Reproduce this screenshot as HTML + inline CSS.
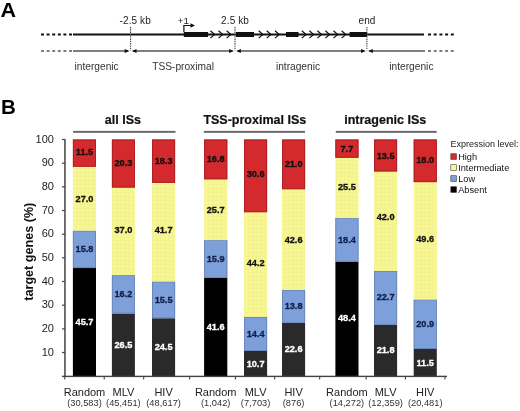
<!DOCTYPE html>
<html><head><meta charset="utf-8"><style>
html,body{margin:0;padding:0;background:#fff;}
body{width:520px;height:411px;overflow:hidden;}
svg{display:block;font-family:"Liberation Sans", sans-serif;will-change:transform;}
</style></head><body>
<svg width="520" height="411" viewBox="0 0 520 411">
<defs><pattern id="yg" width="4" height="4" patternUnits="userSpaceOnUse"><rect width="4" height="4" fill="none"/><rect x="0" y="0" width="4" height="1" fill="#e8e690" opacity="0.35"/><rect x="0" y="1" width="1" height="3" fill="#e8e690" opacity="0.35"/></pattern></defs>
<rect width="520" height="411" fill="#fff"/>
<text x="0.6" y="17.2" font-size="20.5" font-weight="bold" fill="#000" transform="translate(0.6 0) scale(1.05 1) translate(-0.6 0)">A</text>
<line x1="41" y1="34.5" x2="73" y2="34.5" stroke="#111" stroke-width="2" stroke-dasharray="3 2.6"/>
<line x1="73" y1="34.5" x2="424" y2="34.5" stroke="#111" stroke-width="2"/>
<line x1="428" y1="34.5" x2="455" y2="34.5" stroke="#111" stroke-width="2" stroke-dasharray="3 2.7"/>
<rect x="183.8" y="32.0" width="24.3" height="5" fill="#111"/>
<rect x="236.0" y="32.0" width="18.0" height="5" fill="#111"/>
<rect x="286.0" y="32.0" width="12.5" height="5" fill="#111"/>
<rect x="349.6" y="32.0" width="17.4" height="5" fill="#111"/>
<polyline points="210.4,30.7 214.6,34.5 210.4,38.1" fill="none" stroke="#111" stroke-width="1.15"/>
<polyline points="218.5,30.7 222.7,34.5 218.5,38.1" fill="none" stroke="#111" stroke-width="1.15"/>
<polyline points="226.60000000000002,30.7 230.8,34.5 226.60000000000002,38.1" fill="none" stroke="#111" stroke-width="1.15"/>
<polyline points="258.7,30.7 262.9,34.5 258.7,38.1" fill="none" stroke="#111" stroke-width="1.15"/>
<polyline points="266.7,30.7 270.9,34.5 266.7,38.1" fill="none" stroke="#111" stroke-width="1.15"/>
<polyline points="275.0,30.7 279.2,34.5 275.0,38.1" fill="none" stroke="#111" stroke-width="1.15"/>
<polyline points="301.8,30.7 306.0,34.5 301.8,38.1" fill="none" stroke="#111" stroke-width="1.15"/>
<polyline points="309.40000000000003,30.7 313.6,34.5 309.40000000000003,38.1" fill="none" stroke="#111" stroke-width="1.15"/>
<polyline points="317.40000000000003,30.7 321.6,34.5 317.40000000000003,38.1" fill="none" stroke="#111" stroke-width="1.15"/>
<polyline points="325.40000000000003,30.7 329.6,34.5 325.40000000000003,38.1" fill="none" stroke="#111" stroke-width="1.15"/>
<polyline points="333.5,30.7 337.7,34.5 333.5,38.1" fill="none" stroke="#111" stroke-width="1.15"/>
<polyline points="341.6,30.7 345.8,34.5 341.6,38.1" fill="none" stroke="#111" stroke-width="1.15"/>
<polyline points="183.9,32 183.9,25.5 191,25.5" fill="none" stroke="#111" stroke-width="1.2"/>
<polygon points="190.5,23.3 195,25.5 190.5,27.7" fill="#111"/>
<line x1="41" y1="51.0" x2="73" y2="51.0" stroke="#555" stroke-width="1.6" stroke-dasharray="3 2.6"/>
<line x1="73" y1="51.0" x2="128.1" y2="51.0" stroke="#555" stroke-width="1.6"/>
<line x1="133.1" y1="51.0" x2="232.5" y2="51.0" stroke="#555" stroke-width="1.6"/>
<line x1="237.5" y1="51.0" x2="364.4" y2="51.0" stroke="#555" stroke-width="1.6"/>
<line x1="369.4" y1="51.0" x2="425" y2="51.0" stroke="#555" stroke-width="1.6"/>
<line x1="428" y1="51.0" x2="455" y2="51.0" stroke="#555" stroke-width="1.6" stroke-dasharray="3 2.7"/>
<line x1="130.6" y1="27" x2="130.6" y2="50.5" stroke="#444" stroke-width="1.1" stroke-dasharray="1.4 0.9"/>
<polygon points="124.69999999999999,49.1 129.4,51.0 124.69999999999999,52.9" fill="#111"/>
<polygon points="136.5,49.1 131.9,51.0 136.5,52.9" fill="#111"/>
<line x1="235.0" y1="27" x2="235.0" y2="50.5" stroke="#444" stroke-width="1.1" stroke-dasharray="1.4 0.9"/>
<polygon points="229.1,49.1 233.8,51.0 229.1,52.9" fill="#111"/>
<polygon points="240.9,49.1 236.3,51.0 240.9,52.9" fill="#111"/>
<line x1="366.9" y1="27" x2="366.9" y2="50.5" stroke="#444" stroke-width="1.1" stroke-dasharray="1.4 0.9"/>
<polygon points="361.0,49.1 365.7,51.0 361.0,52.9" fill="#111"/>
<polygon points="372.79999999999995,49.1 368.2,51.0 372.79999999999995,52.9" fill="#111"/>
<g font-size="10" fill="#222">
<text x="119.6" y="23.8" letter-spacing="0.1">-2.5 kb</text>
<text x="177.8" y="23.8" font-size="9.8">+1</text>
<text x="221.1" y="23.8" letter-spacing="0.1">2.5 kb</text>
<text x="358.6" y="23.6">end</text>
</g>
<g font-size="10.2" fill="#333">
<text x="74.5" y="69.6">intergenic</text>
<text x="152.2" y="69.6">TSS-proximal</text>
<text x="275.9" y="69.6">intragenic</text>
<text x="389.3" y="69.6">intergenic</text>
</g>
<text x="1.0" y="114.4" font-size="20.5" font-weight="bold" fill="#000">B</text>
<g font-size="12.5" font-weight="bold" fill="#111" stroke="#111" stroke-width="0.2" text-anchor="middle">
<text x="122.9" y="123.8">all ISs</text>
<text x="254.8" y="123.8">TSS-proximal ISs</text>
<text x="385.2" y="123.8">intragenic ISs</text>
</g>
<rect x="73.1" y="130.9" width="102.4" height="1.9" fill="#666"/>
<rect x="203.8" y="130.9" width="101.2" height="1.9" fill="#666"/>
<rect x="335.8" y="130.9" width="100.9" height="1.9" fill="#666"/>
<rect x="64.2" y="139.2" width="1.5" height="237.8" fill="#444444"/>
<g font-size="11" fill="#222" text-anchor="end">
<rect x="62" y="351.9" width="3" height="1.2" fill="#444444"/>
<text x="53.9" y="355.5">10</text>
<rect x="62" y="328.3" width="3" height="1.2" fill="#444444"/>
<text x="53.9" y="331.9">20</text>
<rect x="62" y="304.6" width="3" height="1.2" fill="#444444"/>
<text x="53.9" y="308.2">30</text>
<rect x="62" y="280.9" width="3" height="1.2" fill="#444444"/>
<text x="53.9" y="284.5">40</text>
<rect x="62" y="257.2" width="3" height="1.2" fill="#444444"/>
<text x="53.9" y="260.9">50</text>
<rect x="62" y="233.6" width="3" height="1.2" fill="#444444"/>
<text x="53.9" y="237.2">60</text>
<rect x="62" y="209.9" width="3" height="1.2" fill="#444444"/>
<text x="53.9" y="213.5">70</text>
<rect x="62" y="186.2" width="3" height="1.2" fill="#444444"/>
<text x="53.9" y="189.8">80</text>
<rect x="62" y="162.6" width="3" height="1.2" fill="#444444"/>
<text x="53.9" y="166.2">90</text>
<rect x="62" y="138.9" width="3" height="1.2" fill="#444444"/>
<text x="53.9" y="142.5">100</text>
</g>
<text transform="translate(33.0,251.7) rotate(-90)" font-size="12.6" font-weight="bold" fill="#111" text-anchor="middle">target genes (%)</text>
<rect x="72.9" y="268.03" width="23.1" height="108.17" fill="#000000"/>
<rect x="72.9" y="230.63" width="23.1" height="37.40" fill="#7ea0da"/>
<rect x="73.30000000000001" y="231.03" width="22.30" height="36.60" fill="none" stroke="#6580b8" stroke-width="0.8"/>
<rect x="72.9" y="166.72" width="23.1" height="63.91" fill="#f9f790"/>
<rect x="72.9" y="166.72" width="23.1" height="63.91" fill="url(#yg)"/>
<rect x="72.9" y="139.50" width="23.1" height="27.22" fill="#d52a2d"/>
<rect x="73.35000000000001" y="139.95" width="22.20" height="26.32" fill="none" stroke="#a81f24" stroke-width="0.9"/>
<text x="84.5" y="325.2" font-size="9.2" font-weight="bold" fill="#fff" stroke="#fff" stroke-width="0.3" text-anchor="middle">45.7</text>
<text x="84.5" y="252.4" font-size="9.2" font-weight="bold" fill="#10204a" stroke="#10204a" stroke-width="0.3" text-anchor="middle">15.8</text>
<text x="84.5" y="201.8" font-size="9.2" font-weight="bold" fill="#111" stroke="#111" stroke-width="0.3" text-anchor="middle">27.0</text>
<text x="84.5" y="155.1" font-size="9.2" font-weight="bold" fill="#111" stroke="#111" stroke-width="0.3" text-anchor="middle">11.5</text>
<rect x="111.9" y="313.47" width="23.0" height="62.73" fill="#2a2a2a"/>
<rect x="111.9" y="275.13" width="23.0" height="38.35" fill="#7ea0da"/>
<rect x="112.30000000000001" y="275.53" width="22.20" height="37.55" fill="none" stroke="#6580b8" stroke-width="0.8"/>
<rect x="111.9" y="187.55" width="23.0" height="87.58" fill="#f9f790"/>
<rect x="111.9" y="187.55" width="23.0" height="87.58" fill="url(#yg)"/>
<rect x="111.9" y="139.50" width="23.0" height="48.05" fill="#d52a2d"/>
<rect x="112.35000000000001" y="139.95" width="22.10" height="47.15" fill="none" stroke="#a81f24" stroke-width="0.9"/>
<text x="123.4" y="348.3" font-size="9.2" font-weight="bold" fill="#fff" stroke="#fff" stroke-width="0.3" text-anchor="middle">26.5</text>
<text x="123.4" y="297.0" font-size="9.2" font-weight="bold" fill="#10204a" stroke="#10204a" stroke-width="0.3" text-anchor="middle">16.2</text>
<text x="123.4" y="232.8" font-size="9.2" font-weight="bold" fill="#111" stroke="#111" stroke-width="0.3" text-anchor="middle">37.0</text>
<text x="123.4" y="165.5" font-size="9.2" font-weight="bold" fill="#111" stroke="#111" stroke-width="0.3" text-anchor="middle">20.3</text>
<rect x="152.0" y="318.21" width="23.1" height="57.99" fill="#2a2a2a"/>
<rect x="152.0" y="281.52" width="23.1" height="36.69" fill="#7ea0da"/>
<rect x="152.4" y="281.92" width="22.30" height="35.89" fill="none" stroke="#6580b8" stroke-width="0.8"/>
<rect x="152.0" y="182.82" width="23.1" height="98.70" fill="#f9f790"/>
<rect x="152.0" y="182.82" width="23.1" height="98.70" fill="url(#yg)"/>
<rect x="152.0" y="139.50" width="23.1" height="43.32" fill="#d52a2d"/>
<rect x="152.45" y="139.95" width="22.20" height="42.42" fill="none" stroke="#a81f24" stroke-width="0.9"/>
<text x="163.6" y="349.9" font-size="9.2" font-weight="bold" fill="#fff" stroke="#fff" stroke-width="0.3" text-anchor="middle">24.5</text>
<text x="163.6" y="302.6" font-size="9.2" font-weight="bold" fill="#10204a" stroke="#10204a" stroke-width="0.3" text-anchor="middle">15.5</text>
<text x="163.6" y="232.5" font-size="9.2" font-weight="bold" fill="#111" stroke="#111" stroke-width="0.3" text-anchor="middle">41.7</text>
<text x="163.6" y="163.9" font-size="9.2" font-weight="bold" fill="#111" stroke="#111" stroke-width="0.3" text-anchor="middle">18.3</text>
<rect x="204.1" y="277.73" width="23.2" height="98.47" fill="#000000"/>
<rect x="204.1" y="240.10" width="23.2" height="37.64" fill="#7ea0da"/>
<rect x="204.5" y="240.50" width="22.40" height="36.84" fill="none" stroke="#6580b8" stroke-width="0.8"/>
<rect x="204.1" y="179.27" width="23.2" height="60.83" fill="#f9f790"/>
<rect x="204.1" y="179.27" width="23.2" height="60.83" fill="url(#yg)"/>
<rect x="204.1" y="139.50" width="23.2" height="39.77" fill="#d52a2d"/>
<rect x="204.54999999999998" y="139.95" width="22.30" height="38.87" fill="none" stroke="#a81f24" stroke-width="0.9"/>
<text x="215.7" y="329.7" font-size="9.2" font-weight="bold" fill="#fff" stroke="#fff" stroke-width="0.3" text-anchor="middle">41.6</text>
<text x="215.7" y="261.6" font-size="9.2" font-weight="bold" fill="#10204a" stroke="#10204a" stroke-width="0.3" text-anchor="middle">15.9</text>
<text x="215.7" y="213.0" font-size="9.2" font-weight="bold" fill="#111" stroke="#111" stroke-width="0.3" text-anchor="middle">25.7</text>
<text x="215.7" y="162.1" font-size="9.2" font-weight="bold" fill="#111" stroke="#111" stroke-width="0.3" text-anchor="middle">16.8</text>
<rect x="244.0" y="350.87" width="23.1" height="25.33" fill="#2a2a2a"/>
<rect x="244.0" y="316.79" width="23.1" height="34.08" fill="#7ea0da"/>
<rect x="244.4" y="317.19" width="22.30" height="33.28" fill="none" stroke="#6580b8" stroke-width="0.8"/>
<rect x="244.0" y="212.17" width="23.1" height="104.62" fill="#f9f790"/>
<rect x="244.0" y="212.17" width="23.1" height="104.62" fill="url(#yg)"/>
<rect x="244.0" y="139.50" width="23.1" height="72.67" fill="#d52a2d"/>
<rect x="244.45" y="139.95" width="22.20" height="71.77" fill="none" stroke="#a81f24" stroke-width="0.9"/>
<text x="255.6" y="366.8" font-size="9.2" font-weight="bold" fill="#fff" stroke="#fff" stroke-width="0.3" text-anchor="middle">10.7</text>
<text x="255.6" y="337.1" font-size="9.2" font-weight="bold" fill="#10204a" stroke="#10204a" stroke-width="0.3" text-anchor="middle">14.4</text>
<text x="255.6" y="265.5" font-size="9.2" font-weight="bold" fill="#111" stroke="#111" stroke-width="0.3" text-anchor="middle">44.2</text>
<text x="255.6" y="177.4" font-size="9.2" font-weight="bold" fill="#111" stroke="#111" stroke-width="0.3" text-anchor="middle">30.6</text>
<rect x="282.0" y="322.71" width="23.1" height="53.49" fill="#2a2a2a"/>
<rect x="282.0" y="290.04" width="23.1" height="32.66" fill="#7ea0da"/>
<rect x="282.4" y="290.44" width="22.30" height="31.86" fill="none" stroke="#6580b8" stroke-width="0.8"/>
<rect x="282.0" y="189.21" width="23.1" height="100.83" fill="#f9f790"/>
<rect x="282.0" y="189.21" width="23.1" height="100.83" fill="url(#yg)"/>
<rect x="282.0" y="139.50" width="23.1" height="49.71" fill="#d52a2d"/>
<rect x="282.45" y="139.95" width="22.20" height="48.81" fill="none" stroke="#a81f24" stroke-width="0.9"/>
<text x="293.6" y="352.2" font-size="9.2" font-weight="bold" fill="#fff" stroke="#fff" stroke-width="0.3" text-anchor="middle">22.6</text>
<text x="293.6" y="309.1" font-size="9.2" font-weight="bold" fill="#10204a" stroke="#10204a" stroke-width="0.3" text-anchor="middle">13.8</text>
<text x="293.6" y="242.9" font-size="9.2" font-weight="bold" fill="#111" stroke="#111" stroke-width="0.3" text-anchor="middle">42.6</text>
<text x="293.6" y="167.1" font-size="9.2" font-weight="bold" fill="#111" stroke="#111" stroke-width="0.3" text-anchor="middle">21.0</text>
<rect x="335.4" y="261.64" width="23.1" height="114.56" fill="#000000"/>
<rect x="335.4" y="218.08" width="23.1" height="43.55" fill="#7ea0da"/>
<rect x="335.79999999999995" y="218.48" width="22.30" height="42.75" fill="none" stroke="#6580b8" stroke-width="0.8"/>
<rect x="335.4" y="157.73" width="23.1" height="60.36" fill="#f9f790"/>
<rect x="335.4" y="157.73" width="23.1" height="60.36" fill="url(#yg)"/>
<rect x="335.4" y="139.50" width="23.1" height="18.23" fill="#d52a2d"/>
<rect x="335.84999999999997" y="139.95" width="22.20" height="17.33" fill="none" stroke="#a81f24" stroke-width="0.9"/>
<text x="346.9" y="321.4" font-size="9.2" font-weight="bold" fill="#fff" stroke="#fff" stroke-width="0.3" text-anchor="middle">48.4</text>
<text x="346.9" y="242.6" font-size="9.2" font-weight="bold" fill="#10204a" stroke="#10204a" stroke-width="0.3" text-anchor="middle">18.4</text>
<text x="346.9" y="190.1" font-size="9.2" font-weight="bold" fill="#111" stroke="#111" stroke-width="0.3" text-anchor="middle">25.5</text>
<text x="346.9" y="151.8" font-size="9.2" font-weight="bold" fill="#111" stroke="#111" stroke-width="0.3" text-anchor="middle">7.7</text>
<rect x="374.0" y="324.60" width="23.1" height="51.60" fill="#2a2a2a"/>
<rect x="374.0" y="270.87" width="23.1" height="53.73" fill="#7ea0da"/>
<rect x="374.4" y="271.27" width="22.30" height="52.93" fill="none" stroke="#6580b8" stroke-width="0.8"/>
<rect x="374.0" y="171.45" width="23.1" height="99.41" fill="#f9f790"/>
<rect x="374.0" y="171.45" width="23.1" height="99.41" fill="url(#yg)"/>
<rect x="374.0" y="139.50" width="23.1" height="31.95" fill="#d52a2d"/>
<rect x="374.45" y="139.95" width="22.20" height="31.05" fill="none" stroke="#a81f24" stroke-width="0.9"/>
<text x="385.6" y="353.1" font-size="9.2" font-weight="bold" fill="#fff" stroke="#fff" stroke-width="0.3" text-anchor="middle">21.8</text>
<text x="385.6" y="300.4" font-size="9.2" font-weight="bold" fill="#10204a" stroke="#10204a" stroke-width="0.3" text-anchor="middle">22.7</text>
<text x="385.6" y="220.3" font-size="9.2" font-weight="bold" fill="#111" stroke="#111" stroke-width="0.3" text-anchor="middle">42.0</text>
<text x="385.6" y="159.0" font-size="9.2" font-weight="bold" fill="#111" stroke="#111" stroke-width="0.3" text-anchor="middle">13.5</text>
<rect x="413.7" y="348.98" width="23.1" height="27.22" fill="#2a2a2a"/>
<rect x="413.7" y="299.51" width="23.1" height="49.47" fill="#7ea0da"/>
<rect x="414.09999999999997" y="299.91" width="22.30" height="48.67" fill="none" stroke="#6580b8" stroke-width="0.8"/>
<rect x="413.7" y="182.11" width="23.1" height="117.40" fill="#f9f790"/>
<rect x="413.7" y="182.11" width="23.1" height="117.40" fill="url(#yg)"/>
<rect x="413.7" y="139.50" width="23.1" height="42.61" fill="#d52a2d"/>
<rect x="414.15" y="139.95" width="22.20" height="41.71" fill="none" stroke="#a81f24" stroke-width="0.9"/>
<text x="425.2" y="365.7" font-size="9.2" font-weight="bold" fill="#fff" stroke="#fff" stroke-width="0.3" text-anchor="middle">11.5</text>
<text x="425.2" y="326.9" font-size="9.2" font-weight="bold" fill="#10204a" stroke="#10204a" stroke-width="0.3" text-anchor="middle">20.9</text>
<text x="425.2" y="241.8" font-size="9.2" font-weight="bold" fill="#111" stroke="#111" stroke-width="0.3" text-anchor="middle">49.6</text>
<text x="425.2" y="162.9" font-size="9.2" font-weight="bold" fill="#111" stroke="#111" stroke-width="0.3" text-anchor="middle">18.0</text>
<rect x="62" y="375.7" width="385.0" height="1.4" fill="#444444"/>
<rect x="64.2" y="376.2" width="1.1" height="3.3" fill="#444444"/>
<rect x="103.7" y="376.2" width="1.1" height="3.3" fill="#444444"/>
<rect x="143.1" y="376.2" width="1.1" height="3.3" fill="#444444"/>
<rect x="189.1" y="376.2" width="1.1" height="3.3" fill="#444444"/>
<rect x="234.9" y="376.2" width="1.1" height="3.3" fill="#444444"/>
<rect x="274.1" y="376.2" width="1.1" height="3.3" fill="#444444"/>
<rect x="319.1" y="376.2" width="1.1" height="3.3" fill="#444444"/>
<rect x="365.6" y="376.2" width="1.1" height="3.3" fill="#444444"/>
<rect x="404.9" y="376.2" width="1.1" height="3.3" fill="#444444"/>
<rect x="444.4" y="376.2" width="1.1" height="3.3" fill="#444444"/>
<text x="84.5" y="395.6" font-size="11" fill="#222" text-anchor="middle">Random</text>
<text x="84.5" y="406.3" font-size="9.3" fill="#333" text-anchor="middle">(30,583)</text>
<text x="123.4" y="395.6" font-size="11" fill="#222" text-anchor="middle">MLV</text>
<text x="123.4" y="406.3" font-size="9.3" fill="#333" text-anchor="middle">(45,451)</text>
<text x="163.6" y="395.6" font-size="11" fill="#222" text-anchor="middle">HIV</text>
<text x="163.6" y="406.3" font-size="9.3" fill="#333" text-anchor="middle">(48,617)</text>
<text x="215.7" y="395.6" font-size="11" fill="#222" text-anchor="middle">Random</text>
<text x="215.7" y="406.3" font-size="9.3" fill="#333" text-anchor="middle">(1,042)</text>
<text x="255.6" y="395.6" font-size="11" fill="#222" text-anchor="middle">MLV</text>
<text x="255.6" y="406.3" font-size="9.3" fill="#333" text-anchor="middle">(7,703)</text>
<text x="293.6" y="395.6" font-size="11" fill="#222" text-anchor="middle">HIV</text>
<text x="293.6" y="406.3" font-size="9.3" fill="#333" text-anchor="middle">(876)</text>
<text x="346.9" y="395.6" font-size="11" fill="#222" text-anchor="middle">Random</text>
<text x="346.9" y="406.3" font-size="9.3" fill="#333" text-anchor="middle">(14,272)</text>
<text x="385.6" y="395.6" font-size="11" fill="#222" text-anchor="middle">MLV</text>
<text x="385.6" y="406.3" font-size="9.3" fill="#333" text-anchor="middle">(12,359)</text>
<text x="425.2" y="395.6" font-size="11" fill="#222" text-anchor="middle">HIV</text>
<text x="425.2" y="406.3" font-size="9.3" fill="#333" text-anchor="middle">(20,481)</text>
<text x="450.4" y="147.1" font-size="9" fill="#222">Expression level:</text>
<rect x="450.8" y="153.7" width="5.8" height="5.8" fill="#d52a2d" stroke="#444" stroke-width="0.6"/>
<text x="458.2" y="159.8" font-size="9.2" fill="#111">High</text>
<rect x="450.8" y="164.7" width="5.8" height="5.8" fill="#f9f790" stroke="#444" stroke-width="0.6"/>
<text x="458.2" y="170.8" font-size="9.2" fill="#111">Intermediate</text>
<rect x="450.8" y="175.7" width="5.8" height="5.8" fill="#7ea0da" stroke="#444" stroke-width="0.6"/>
<text x="458.2" y="181.8" font-size="9.2" fill="#111">Low</text>
<rect x="450.8" y="186.7" width="5.8" height="5.8" fill="#000000" stroke="#444" stroke-width="0.6"/>
<text x="458.2" y="192.8" font-size="9.2" fill="#111">Absent</text>
</svg>
</body></html>
